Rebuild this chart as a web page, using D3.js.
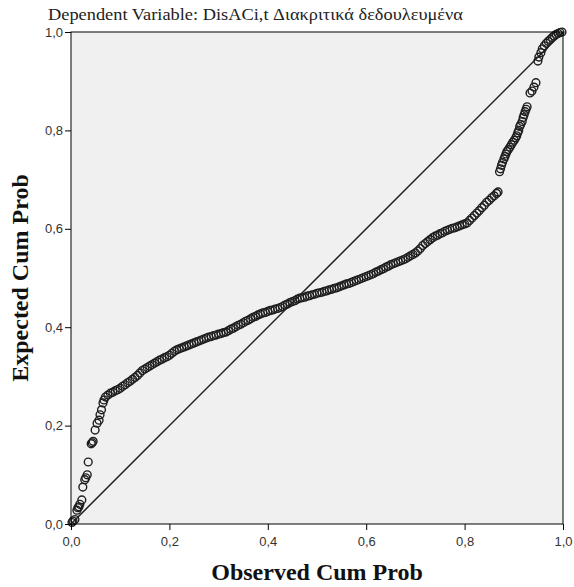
<!DOCTYPE html>
<html>
<head>
<meta charset="utf-8">
<script src="https://cdn.jsdelivr.net/npm/d3@7"></script>
<style>
  body { margin: 0; background: #fff; }
  .tick text { font-family: Arial, "Liberation Sans", sans-serif; font-size: 13px; fill: #333; }
</style>
</head>
<body>
<svg id="chart"></svg>
<script>
// P-P plot of regression standardized residual
const tickValues = [0, 0.2, 0.4, 0.6, 0.8, 1.0]
const tickLabels = ['0,0', '0,2', '0,4', '0,6', '0,8', '1,0']

const lowObserved = [0.002, 0.004, 0.008, 0.012, 0.014, 0.016, 0.018, 0.022, 0.024, 0.028, 0.030, 0.033,
  0.035, 0.041, 0.043, 0.045, 0.049, 0.053, 0.057, 0.059, 0.062, 0.065, 0.067]
const lowExpected = [0.003, 0.006, 0.009, 0.028, 0.033, 0.035, 0.040, 0.049, 0.075, 0.090, 0.094, 0.100,
  0.126, 0.163, 0.165, 0.168, 0.191, 0.205, 0.211, 0.222, 0.232, 0.246, 0.252]

const midObserved = [0.070, 0.075, 0.080, 0.085, 0.090, 0.095, 0.100, 0.105, 0.110, 0.115, 0.120, 0.125,
  0.130, 0.135, 0.140, 0.145, 0.150, 0.155, 0.160, 0.165, 0.170, 0.175, 0.180, 0.185, 0.190, 0.195,
  0.200, 0.205, 0.210, 0.215, 0.220, 0.225, 0.230, 0.235, 0.240, 0.245, 0.250, 0.255, 0.260, 0.265,
  0.270, 0.275, 0.280, 0.285, 0.290, 0.295, 0.300, 0.305, 0.310, 0.315, 0.320, 0.325, 0.330, 0.335,
  0.340, 0.345, 0.350, 0.355, 0.360, 0.365, 0.370, 0.375, 0.380, 0.385, 0.390, 0.395, 0.400, 0.405,
  0.410, 0.415, 0.420, 0.425, 0.430, 0.435, 0.440, 0.445, 0.450, 0.455, 0.460, 0.465, 0.470, 0.475,
  0.480, 0.485, 0.490, 0.495, 0.500, 0.505, 0.510, 0.515, 0.520, 0.525, 0.530, 0.535, 0.540, 0.545,
  0.550, 0.555, 0.560, 0.565, 0.570, 0.575, 0.580, 0.585, 0.590, 0.595, 0.600, 0.605, 0.610, 0.615,
  0.620, 0.625, 0.630, 0.635, 0.640, 0.645, 0.650, 0.655, 0.660, 0.665, 0.670, 0.675, 0.680, 0.685,
  0.690, 0.695, 0.700, 0.705, 0.710, 0.715, 0.720, 0.725, 0.730, 0.735, 0.740, 0.745, 0.750, 0.755,
  0.760, 0.765, 0.770, 0.775, 0.780, 0.785, 0.790, 0.795, 0.800, 0.805, 0.810, 0.815, 0.820, 0.825,
  0.830, 0.835, 0.840, 0.845, 0.850, 0.855, 0.860, 0.865, 0.868]
const midExpected = [0.258, 0.262, 0.266, 0.268, 0.271, 0.273, 0.276, 0.280, 0.283, 0.287, 0.290, 0.294,
  0.298, 0.302, 0.307, 0.312, 0.315, 0.318, 0.321, 0.324, 0.327, 0.330, 0.333, 0.335, 0.338, 0.340,
  0.343, 0.347, 0.351, 0.354, 0.356, 0.358, 0.360, 0.362, 0.364, 0.366, 0.368, 0.370, 0.372, 0.374,
  0.376, 0.378, 0.380, 0.381, 0.383, 0.384, 0.386, 0.387, 0.389, 0.390, 0.393, 0.396, 0.398, 0.401,
  0.404, 0.406, 0.409, 0.412, 0.414, 0.417, 0.420, 0.422, 0.425, 0.427, 0.429, 0.430, 0.432, 0.434,
  0.435, 0.437, 0.438, 0.440, 0.442, 0.445, 0.447, 0.450, 0.452, 0.454, 0.457, 0.459, 0.460, 0.461,
  0.463, 0.464, 0.466, 0.467, 0.469, 0.470, 0.471, 0.473, 0.474, 0.476, 0.477, 0.479, 0.480, 0.482,
  0.484, 0.486, 0.488, 0.489, 0.491, 0.493, 0.495, 0.497, 0.499, 0.501, 0.503, 0.505, 0.507, 0.509,
  0.512, 0.514, 0.517, 0.519, 0.522, 0.524, 0.527, 0.529, 0.531, 0.533, 0.535, 0.537, 0.539, 0.542,
  0.545, 0.548, 0.551, 0.555, 0.560, 0.566, 0.570, 0.574, 0.578, 0.582, 0.585, 0.587, 0.590, 0.592,
  0.595, 0.597, 0.599, 0.601, 0.602, 0.604, 0.606, 0.608, 0.610, 0.612, 0.617, 0.622, 0.627, 0.632,
  0.637, 0.643, 0.648, 0.654, 0.658, 0.663, 0.667, 0.672, 0.675]

const highObserved = [0.871, 0.873, 0.875, 0.877, 0.880, 0.882, 0.884, 0.886, 0.889, 0.892, 0.895, 0.898,
  0.901, 0.904, 0.906, 0.908, 0.910, 0.912, 0.914, 0.917, 0.919, 0.921, 0.923, 0.925, 0.927, 0.933,
  0.937, 0.941, 0.945, 0.949, 0.951, 0.955, 0.958, 0.962, 0.966, 0.970, 0.974, 0.978, 0.982, 0.986,
  0.990, 0.994, 0.998]
const highExpected = [0.716, 0.722, 0.729, 0.735, 0.742, 0.747, 0.752, 0.757, 0.761, 0.766, 0.771, 0.776,
  0.780, 0.785, 0.789, 0.795, 0.800, 0.808, 0.812, 0.818, 0.826, 0.832, 0.838, 0.843, 0.848, 0.876,
  0.880, 0.888, 0.897, 0.941, 0.949, 0.958, 0.966, 0.972, 0.977, 0.981, 0.985, 0.989, 0.992, 0.995,
  0.997, 0.999, 1.000]

const observed = lowObserved.concat(midObserved, highObserved)
const expected = lowExpected.concat(midExpected, highExpected)
const points = observed.map((o, i) => ({ o, e: expected[i] }))

const w = 574
const h = 587
const plotLeft = 71, plotRight = 563, plotTop = 32, plotBottom = 524

const svg = d3.select('#chart')
  .attr('width', w)
  .attr('height', h)

const xScale = d3.scaleLinear().domain([0, 1]).range([plotLeft, plotRight])
const yScale = d3.scaleLinear().domain([0, 1]).range([plotBottom, plotTop])

svg.append('rect')
  .attr('x', plotLeft)
  .attr('y', plotTop)
  .attr('width', plotRight - plotLeft)
  .attr('height', plotBottom - plotTop)
  .attr('fill', '#f0f0f0')

svg.append('line')
  .attr('x1', xScale(0))
  .attr('y1', yScale(0))
  .attr('x2', xScale(1))
  .attr('y2', yScale(1))
  .attr('stroke', '#222')
  .attr('stroke-width', 1.5)

svg.append('g')
  .selectAll('circle')
  .data(points)
  .enter()
  .append('circle')
  .attr('cx', d => xScale(d.o))
  .attr('cy', d => yScale(d.e))
  .attr('r', 3.9)
  .attr('fill', 'none')
  .attr('stroke', '#1e1e1e')
  .attr('stroke-width', 1.4)

const xAxis = d3.axisBottom(xScale)
  .tickValues(tickValues)
  .tickFormat((d, i) => tickLabels[i])
  .tickSize(6)
  .tickSizeOuter(0)

const yAxis = d3.axisLeft(yScale)
  .tickValues(tickValues)
  .tickFormat((d, i) => tickLabels[i])
  .tickSize(6)
  .tickSizeOuter(0)

svg.append('g')
  .attr('transform', `translate(0, ${plotBottom})`)
  .call(xAxis)
  .call(g => g.select('.domain').remove())
  .call(g => g.selectAll('.tick text').attr('dy', '1em'))

svg.append('g')
  .attr('transform', `translate(${plotLeft}, 0)`)
  .call(yAxis)
  .call(g => g.select('.domain').remove())
  .call(g => g.selectAll('.tick text').attr('x', -8))

svg.selectAll('.tick line').attr('stroke', '#000')

svg.append('rect')
  .attr('x', plotLeft)
  .attr('y', plotTop)
  .attr('width', plotRight - plotLeft)
  .attr('height', plotBottom - plotTop)
  .attr('fill', 'none')
  .attr('stroke', '#000')
  .attr('stroke-width', 1)

svg.append('text')
  .text('Dependent Variable: DisACi,t Διακριτικά δεδουλευμένα')
  .attr('x', 48)
  .attr('y', 20)
  .attr('textLength', 415)
  .attr('lengthAdjust', 'spacingAndGlyphs')
  .style('font', '17px "Liberation Serif", "DejaVu Serif", serif')
  .style('fill', '#222')

svg.append('text')
  .text('Observed Cum Prob')
  .attr('x', (plotLeft + plotRight) / 2)
  .attr('y', 580)
  .attr('text-anchor', 'middle')
  .style('font', 'bold 24px "Liberation Serif", serif')
  .style('fill', '#111')

svg.append('text')
  .text('Expected Cum Prob')
  .attr('transform', `translate(28, ${(plotTop + plotBottom) / 2}) rotate(-90)`)
  .attr('text-anchor', 'middle')
  .style('font', 'bold 24px "Liberation Serif", serif')
  .style('fill', '#111')
</script>
</body>
</html>
